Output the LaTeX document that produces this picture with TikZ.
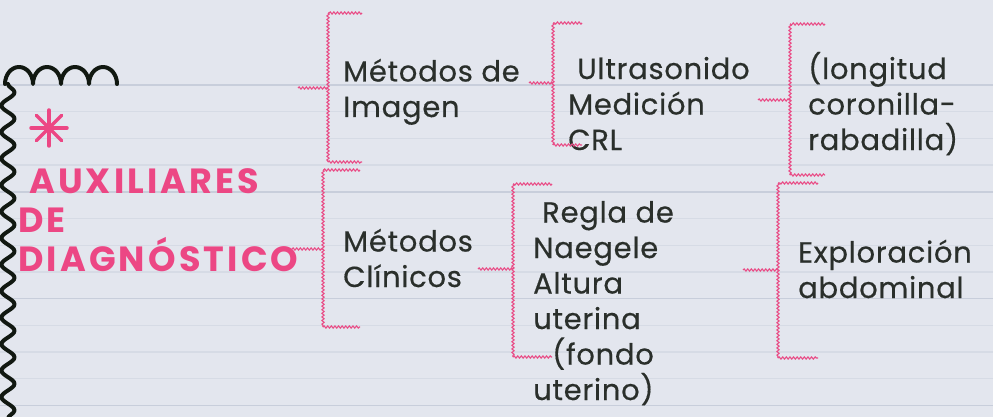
\documentclass[tikz,border=0pt]{standalone}
\usepackage{fontspec}
\setmainfont{Poppins}
\newfontfamily\bodyfont{Poppins}[LetterSpace=2.5,FakeBold=0.4]
\newfontfamily\titlefont{Poppins}[LetterSpace=9]
\usetikzlibrary{decorations.pathmorphing}
\definecolor{bg}{HTML}{E3E6EE}
\definecolor{ruleD}{HTML}{C8CEDB}
\definecolor{ruleL}{HTML}{D6DBE5}
\definecolor{pk}{HTML}{EC4784}
\definecolor{bpk}{HTML}{E94C86}
\definecolor{ink}{HTML}{2A2F2B}
\definecolor{blk}{HTML}{111811}
\tikzset{
  wave/.style={draw=bpk, line width=1.1pt, decorate, decoration={snake, amplitude=1.1pt, segment length=3.6pt}},
  body/.style={font=\bodyfont\fontsize{29}{35.5}\selectfont, text=ink, align=left, anchor=base west, inner sep=0pt},
  title/.style={font=\titlefont\bfseries\fontsize{35}{39}\selectfont, text=pk, align=left, anchor=base west, inner sep=0pt},
  coil/.style={draw=blk, line width=4pt, line cap=round, line join=round},
  spoke/.style={draw=pk, line width=3.5pt, line cap=round},
}
\newcommand\wbrace[6]{%
  \draw[wave] (#4,#2) -- (#1,#2);
  \draw[wave] (#1,#2) -- (#1,#3);
  \draw[wave] (#1,#3) -- (#4,#3);
  \draw[wave] (#6,#5) -- (#1,#5);
}
\begin{document}
\begin{tikzpicture}[x=1pt,y=-1pt]
\fill[bg] (0,0) rectangle (993,417);
\useasboundingbox (0,0) rectangle (993,417);
% ruled lines
\foreach \k in {0,...,12}{
  \pgfmathtruncatemacro\m{mod(\k,4)}
  \ifnum\m=0
    \draw[ruleD, line width=1.6pt] (0,85+26.7*\k) -- (993,85+26.7*\k);
  \else
    \draw[ruleL, line width=1.4pt] (0,85+26.7*\k) -- (993,85+26.7*\k);
  \fi
}
% black squiggle border
\draw[coil] (5,84)
  arc[start angle=180,end angle=360,x radius=14,y radius=17]
  arc[start angle=180,end angle=360,x radius=14,y radius=17]
  arc[start angle=180,end angle=360,x radius=14,y radius=17]
  arc[start angle=180,end angle=360,x radius=14,y radius=17];
\draw[coil, decorate, decoration={snake, amplitude=6.5pt, segment length=26.5pt}] (8,84) -- (8,430);
% asterisk
\coordinate (ast) at (49,128);
\foreach \a in {0,45,...,315}{ \draw[spoke] (ast) -- ++(\a:18); }
% title (anchor = baseline of last line)
\node[title] (ttl) at (18,271) {\hspace*{11pt}AUXILIARES\\DE\\DIAGNÓSTICO};
% text blocks (anchor = baseline of last line)
\node[body] (img) at (343,117) {Métodos de\\Imagen};
\node[body] (cli) at (343,287) {Métodos\\Clínicos};
\node[body] (ult) at (568,150) {\hspace*{9pt}Ultrasonido\\Medición\\CRL};
\node[body] (lon) at (808,150) {(longitud\\coronilla-\\rabadilla)};
\node[body] (reg) at (533,400) {\hspace*{9pt}Regla de\\Naegele\\Altura\\uterina\\\hspace*{19pt}(fondo\\uterino)};
\node[body] (exp) at (798,298) {Exploración\\abdominal};
% braces
\wbrace{328}{13}{162}{362}{88}{298}
\wbrace{323}{170}{327}{360}{249}{292}
\wbrace{553}{23}{145}{582}{83}{529}
\wbrace{790}{24}{175}{825}{100}{758}
\wbrace{513}{184}{357}{552}{269}{478}
\wbrace{778}{183}{358}{818}{270}{743}
\end{tikzpicture}
\end{document}
